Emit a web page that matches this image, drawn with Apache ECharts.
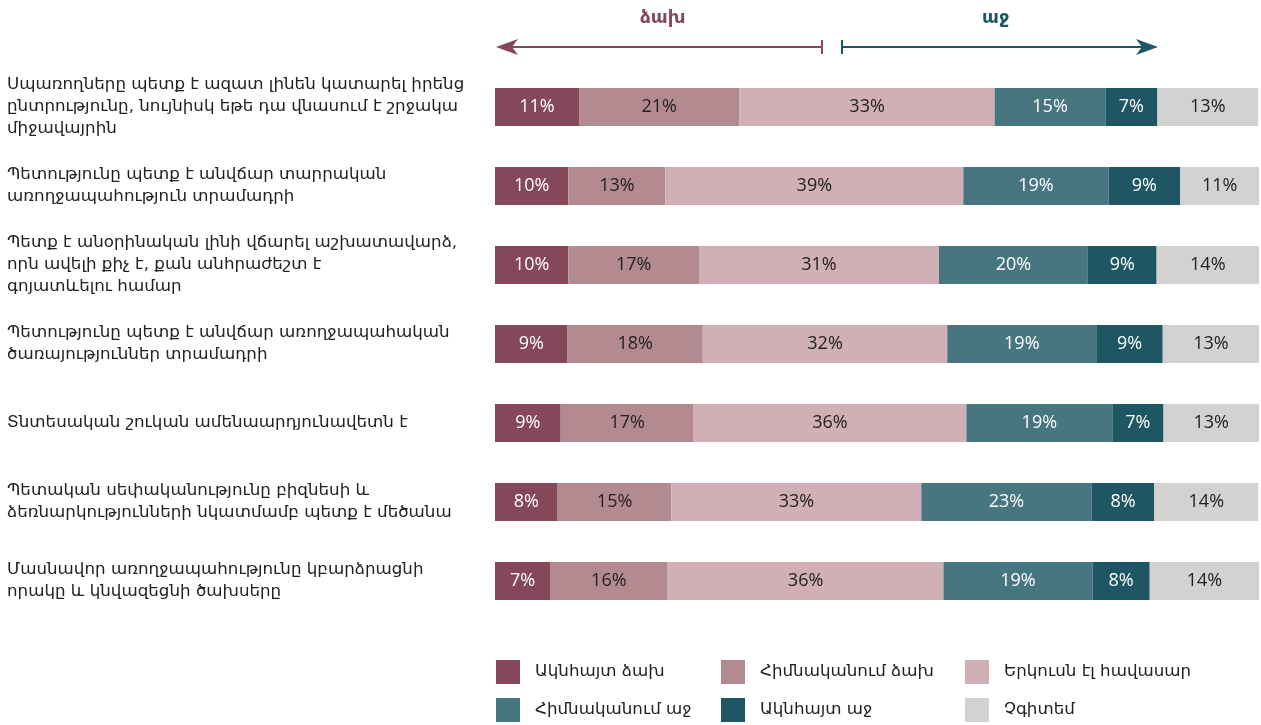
<!DOCTYPE html>
<html>
<head>
<meta charset="utf-8">
<script src="https://cdn.jsdelivr.net/npm/echarts@6/dist/echarts.min.js"></script>
<style>
  html, body { margin: 0; padding: 0; background: #fff; }
  #main { width: 1261px; height: 725px; }
</style>
</head>
<body>
<div id="main"></div>
<script>
// հարցեր (y առանցք)
var statements = [
    'Սպառողները պետք է ազատ լինեն կատարել իրենց\nընտրությունը, նույնիսկ եթե դա վնասում է շրջակա\nմիջավայրին',
    'Պետությունը պետք է անվճար տարրական\nառողջապահություն տրամադրի',
    'Պետք է անօրինական լինի վճարել աշխատավարձ,\nորն ավելի քիչ է, քան անհրաժեշտ է\nգոյատևելու համար',
    'Պետությունը պետք է անվճար առողջապահական\nծառայություններ տրամադրի',
    'Տնտեսական շուկան ամենաարդյունավետն է',
    'Պետական սեփականությունը բիզնեսի և\nձեռնարկությունների նկատմամբ պետք է մեծանա',
    'Մասնավոր առողջապահությունը կբարձրացնի\nորակը և կնվազեցնի ծախսերը'
];

var seriesNames = ['Ակնհայտ ձախ', 'Հիմնականում ձախ', 'Երկուսն էլ հավասար', 'Հիմնականում աջ', 'Ակնհայտ աջ', 'Չգիտեմ'];
var colors = ['#84485a', '#b48a91', '#d0b0b6', '#477580', '#1e5763', '#d2d2d0'];
var labelColors = ['#ffffff', '#222222', '#222222', '#ffffff', '#ffffff', '#222222'];

// bar widths (%)
var clearlyLeft  = [11.0, 9.6, 9.6, 9.5, 8.6, 8.2, 7.2];
var mostlyLeft   = [21.0, 12.7, 17.1, 17.7, 17.4, 14.9, 15.4];
var bothEqual    = [33.4, 39.0, 31.4, 32.0, 35.7, 32.7, 36.1];
var mostlyRight  = [14.5, 19.0, 19.5, 19.5, 19.1, 22.3, 19.5];
var clearlyRight = [6.8, 9.4, 9.0, 8.7, 6.7, 8.2, 7.5];
var dontKnow     = [13.2, 10.4, 13.4, 12.6, 12.5, 13.6, 14.3];

// printed labels (%)
var clearlyLeftLbl  = [11, 10, 10, 9, 9, 8, 7];
var mostlyLeftLbl   = [21, 13, 17, 18, 17, 15, 16];
var bothEqualLbl    = [33, 39, 31, 32, 36, 33, 36];
var mostlyRightLbl  = [15, 19, 20, 19, 19, 23, 19];
var clearlyRightLbl = [7, 9, 9, 9, 7, 8, 8];
var dontKnowLbl     = [13, 11, 14, 13, 13, 14, 14];

var values = [clearlyLeft, mostlyLeft, bothEqual, mostlyRight, clearlyRight, dontKnow];
var labels = [clearlyLeftLbl, mostlyLeftLbl, bothEqualLbl, mostlyRightLbl, clearlyRightLbl, dontKnowLbl];

var armFont = '"DejaVu Sans", "Noto Sans", sans-serif';
var numFont = '"Open Sans", "Noto Sans", sans-serif';

var series = seriesNames.map(function (name, i) {
    return {
        name: name,
        type: 'bar',
        stack: 'all',
        barWidth: 38,
        itemStyle: { color: colors[i] },
        label: {
            show: true,
            position: 'inside',
            color: labelColors[i],
            fontFamily: numFont,
            fontSize: 18,
            formatter: function (p) { return labels[i][p.dataIndex] + '%'; }
        },
        emphasis: { disabled: true },
        data: values[i]
    };
});

// legend: one per item so the 3x2 grid lines up
var legendPos = [[496, 660], [721, 660], [965, 660], [496, 698], [721, 698], [965, 698]];
var legends = seriesNames.map(function (name, i) {
    return {
        data: [name],
        left: legendPos[i][0],
        top: legendPos[i][1],
        padding: 0,
        itemWidth: 24,
        itemHeight: 24,
        itemGap: 0,
        selectedMode: false,
        icon: 'rect',
        textStyle: { fontFamily: armFont, fontSize: 16.7, color: '#222', padding: [0, 0, 0, 10] }
    };
});

var leftColor = '#84485a', rightColor = '#1e5763';

var myChart = echarts.init(document.getElementById('main'));
myChart.setOption({
    animation: false,
    grid: { left: 495, right: 2, top: 67.5, height: 553 },
    xAxis: { type: 'value', min: 0, max: 100, show: false },
    yAxis: {
        type: 'category',
        inverse: true,
        data: statements,
        axisLine: { show: false },
        axisTick: { show: false },
        axisLabel: {
            align: 'left',
            margin: 488,
            fontFamily: armFont,
            fontSize: 16.7,
            lineHeight: 22,
            color: '#222'
        }
    },
    legend: legends,
    graphic: [
        { type: 'text', left: 640, top: 9, style: { text: 'ձախ', fill: leftColor, font: 'bold 18px ' + armFont } },
        { type: 'text', left: 982, top: 9, style: { text: 'աջ', fill: rightColor, font: 'bold 18px ' + armFont } },
        { type: 'line', shape: { x1: 510, y1: 47, x2: 822, y2: 47 }, style: { stroke: leftColor, lineWidth: 2 } },
        { type: 'line', shape: { x1: 822, y1: 40, x2: 822, y2: 54 }, style: { stroke: leftColor, lineWidth: 2 } },
        { type: 'polygon', shape: { points: [[496, 47], [518, 39], [512, 47], [518, 55]] }, style: { fill: leftColor } },
        { type: 'line', shape: { x1: 842, y1: 47, x2: 1144, y2: 47 }, style: { stroke: rightColor, lineWidth: 2 } },
        { type: 'line', shape: { x1: 842, y1: 40, x2: 842, y2: 54 }, style: { stroke: rightColor, lineWidth: 2 } },
        { type: 'polygon', shape: { points: [[1158, 47], [1136, 39], [1142, 47], [1136, 55]] }, style: { fill: rightColor } }
    ],
    series: series
});
</script>
</body>
</html>
